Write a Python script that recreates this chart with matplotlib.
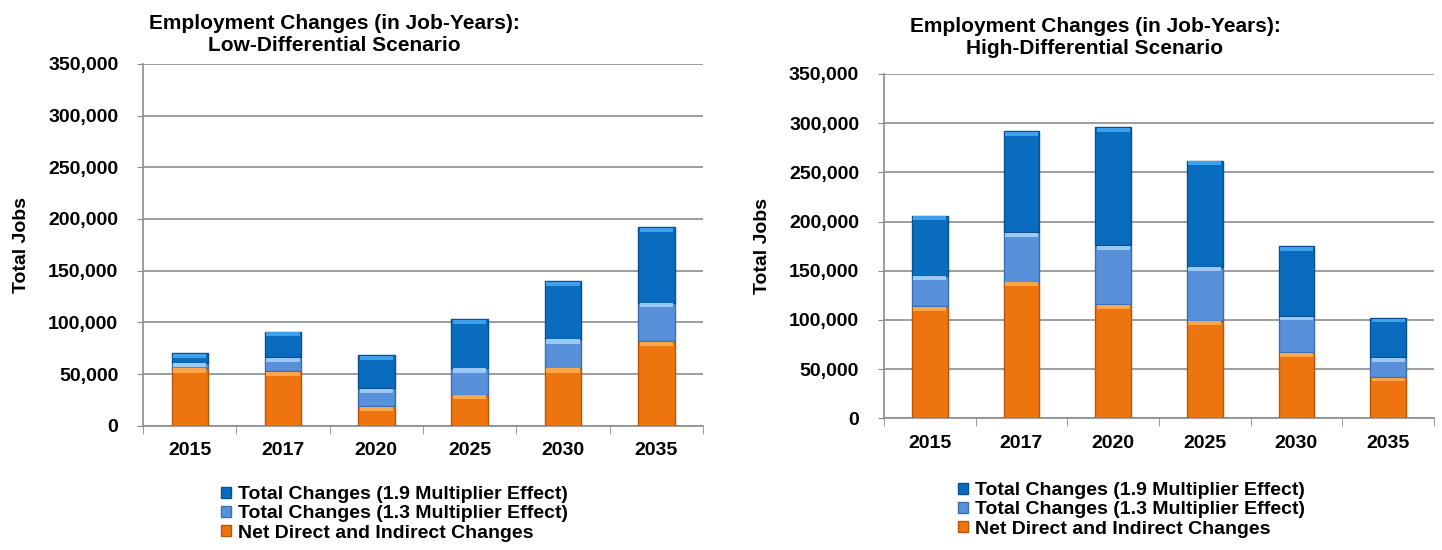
import numpy as np
import matplotlib
matplotlib.use("Agg")
import matplotlib.pyplot as plt
import matplotlib.ticker as mticker
from matplotlib.patches import Patch

plt.rcParams["font.family"] = ["Liberation Sans", "DejaVu Sans"]
plt.rcParams["font.weight"] = "bold"

years = ["2015", "2017", "2020", "2025", "2030", "2035"]

# cumulative totals (jobs)
low_net = [56000, 53000, 19000, 30000, 56000, 82000]
low_x13 = [61000, 66000, 36000, 56000, 84000, 119000]
low_x19 = [70000, 91000, 68000, 103000, 140000, 192000]

high_net = [114000, 139000, 116000, 99000, 67000, 42000]
high_x13 = [145000, 189000, 176000, 154000, 104000, 62000]
high_x19 = [206000, 292000, 296000, 262000, 175000, 102000]

titles = [
    "Employment Changes (in Job-Years):\nLow-Differential Scenario",
    "Employment Changes (in Job-Years):\nHigh-Differential Scenario",
]
legend_labels = [
    "Total Changes (1.9 Multiplier Effect)",
    "Total Changes (1.3 Multiplier Effect)",
    "Net Direct and Indirect Changes",
]

C_ORANGE = "#EE7410"
C_LIGHT = "#5890DA"
C_DARK = "#0A6CBE"
E_ORANGE = "#B5560A"
E_LIGHT = "#3A6FB0"
E_DARK = "#08508F"
GRID = "#8C8C8C"


def draw_panel(ax, net, x13, x19):
    x = np.arange(len(years))
    net = np.array(net)
    x13 = np.array(x13)
    x19 = np.array(x19)
    w = 0.39
    ax.bar(x, net, w, color=C_ORANGE, edgecolor=E_ORANGE, linewidth=1, zorder=3)
    ax.bar(x, x13 - net, w, bottom=net, color=C_LIGHT, edgecolor=E_LIGHT, linewidth=1, zorder=3)
    ax.bar(x, x19 - x13, w, bottom=x13, color=C_DARK, edgecolor=E_DARK, linewidth=1, zorder=3)
    # bevel highlight at the top of each segment
    hl = 4000
    for tops, col in ((net, "#FBA64A"), (x13, "#9CC8F5"), (x19, "#3FA0EC")):
        ax.bar(x, np.full(len(x), hl), w * 0.92, bottom=tops - hl - 600,
               color=col, linewidth=0, zorder=4)

    ax.set_ylim(0, 350000)
    ax.set_xlim(-0.5, len(years) - 0.5)
    ax.yaxis.set_major_locator(mticker.MultipleLocator(50000))
    ax.yaxis.set_major_formatter(mticker.FuncFormatter(lambda v, _: f"{v:,.0f}"))
    ax.set_xticks(x)
    ax.set_xticklabels(years)
    ax.set_xticks(np.arange(-0.5, len(years)), minor=True)
    ax.tick_params(axis="x", which="major", length=0, pad=12, labelsize=14)
    ax.tick_params(axis="x", which="minor", length=6, color=GRID, direction="out")
    ax.tick_params(axis="y", length=4.3, color=GRID, labelsize=14, pad=13.5)
    ax.grid(axis="y", color=GRID, linewidth=1.2, zorder=0)
    ax.set_axisbelow(True)
    for s in ("top", "right"):
        ax.spines[s].set_visible(False)
    ax.spines["left"].set_color(GRID)
    ax.spines["bottom"].set_color(GRID)
    ax.spines["left"].set_linewidth(1.2)
    ax.spines["bottom"].set_linewidth(1.2)
    ax.set_ylabel("Total Jobs", fontsize=14, fontweight="bold", labelpad=13)


fig = plt.figure(figsize=(14.42, 5.5), dpi=100)
ax1 = fig.add_axes([0.0992, 0.226, 0.3883, 0.658])
ax2 = fig.add_axes([0.613, 0.2395, 0.3814, 0.626])

draw_panel(ax1, low_net, low_x13, low_x19)
draw_panel(ax2, high_net, high_x13, high_x19)

fig.text(334 / 1442, 1 - 34.5 / 550, titles[0], ha="center", va="center",
         fontsize=15, fontweight="bold", linespacing=1.2)
fig.text(1095 / 1442, 1 - 38 / 550, titles[1], ha="center", va="center",
         fontsize=15, fontweight="bold", linespacing=1.2)

handles = [
    Patch(facecolor=C_DARK, edgecolor=E_DARK),
    Patch(facecolor=C_LIGHT, edgecolor=E_LIGHT),
    Patch(facecolor=C_ORANGE, edgecolor=E_ORANGE),
]
for lx, ly in ((221, 486), (958, 482)):
    fig.legend(handles, legend_labels, loc="upper left",
               bbox_to_anchor=(lx / 1442, 1 - ly / 550), frameon=False,
               handlelength=0.5, handleheight=0.5,
               handletextpad=0.35, labelspacing=0.12, borderpad=0,
               borderaxespad=0, prop={"weight": "bold", "size": 14})

fig.savefig("out.png", dpi=100)
